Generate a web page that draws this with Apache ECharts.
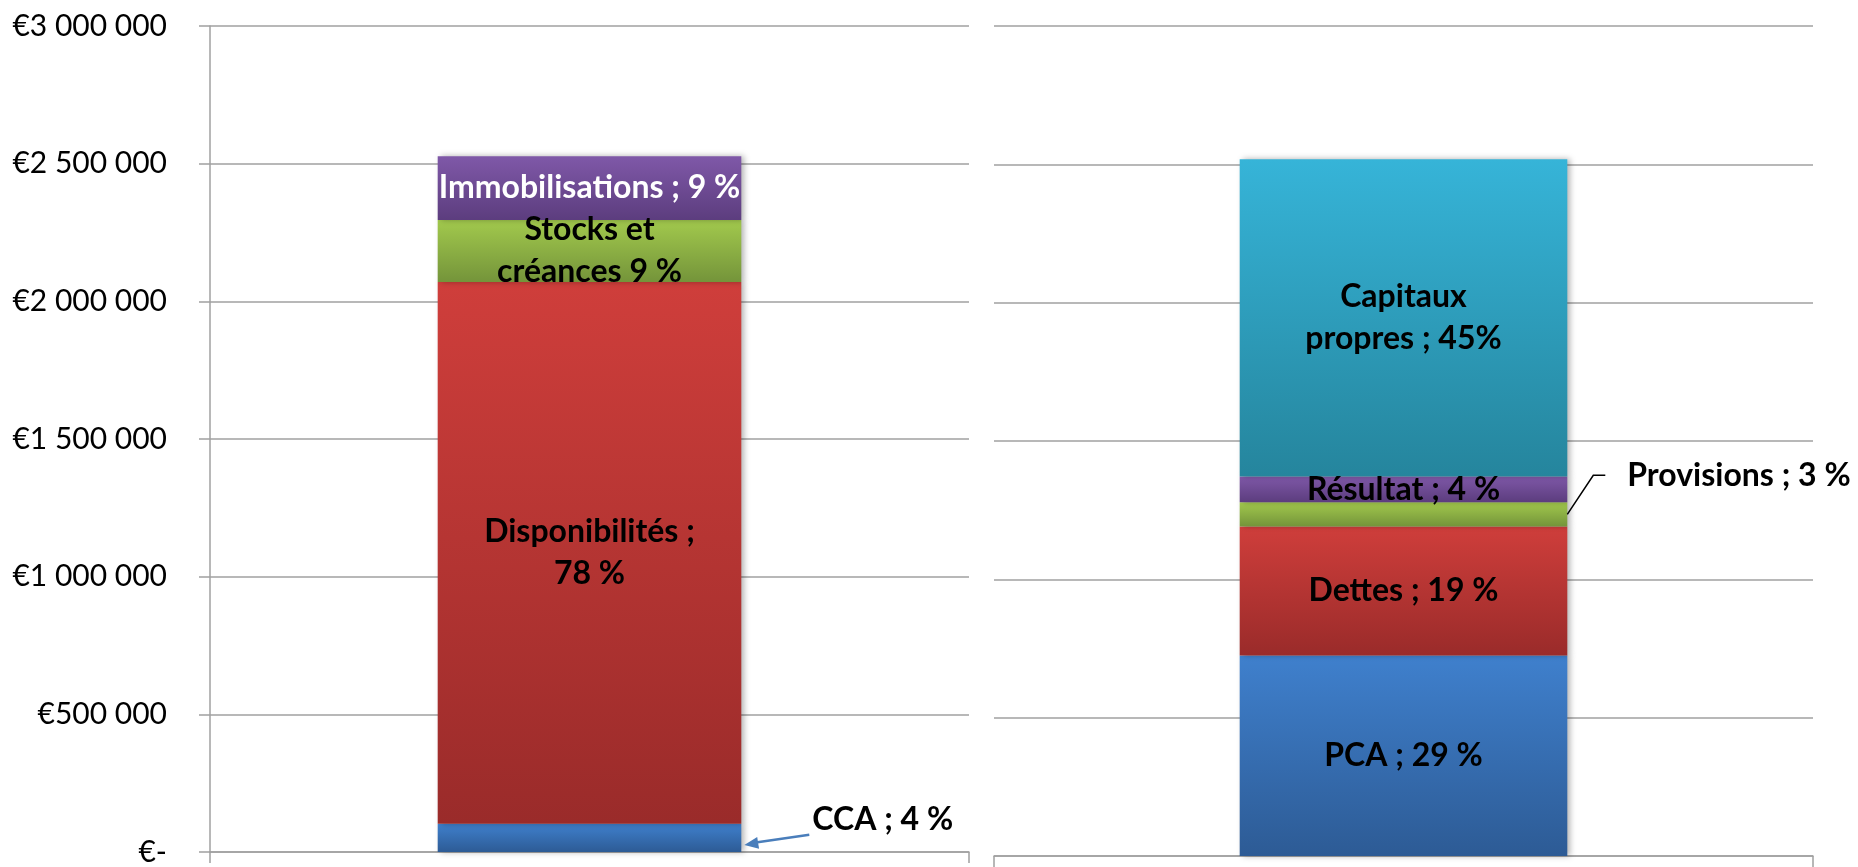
<!DOCTYPE html>
<html>
<head>
<meta charset="utf-8">
<style>
  html, body { margin: 0; padding: 0; background: #fff; }
  #bilan { width: 1858px; height: 867px; }
</style>
<script src="https://cdn.jsdelivr.net/npm/echarts@6/dist/echarts.min.js"></script>
</head>
<body>
<div id="bilan"></div>
<script>
// axe des valeurs
const yMin = 0
const yMax = 3000000
const yStep = 500000

// actif (barre de gauche), de bas en haut
const actifNames = ['CCA', 'Disponibilités', 'Stocks et créances', 'Immobilisations']
const actifValues = [103000, 1967000, 225000, 232000]
const actifLabels = ['CCA ; 4 %', 'Disponibilités ;\n78 %', 'Stocks et\ncréances 9 %', 'Immobilisa\u200Ctions ; 9 %']

// passif (barre de droite), de bas en haut
const passifNames = ['PCA', 'Dettes', 'Provisions', 'Résultat', 'Capitaux propres']
const passifValues = [725000, 466000, 88000, 93000, 1146000]
const passifLabels = ['PCA ; 29 %', 'Dettes ; 19 %', 'Provisions ; 3 %', 'Résultat ; 4 %', 'Capitaux\npropres ; 45%']

// couleurs (haut, bas)
const gradients = {
  blue: ['#3f80cd', '#2d5b95'],
  red: ['#cf3e3b', '#9a2b2a'],
  green: ['#a2c94d', '#74943a'],
  purple: ['#7f58a8', '#5c3d7e'],
  teal: ['#36b4d8', '#25859d']
}
const actifColors = ['blue', 'red', 'green', 'purple']
const passifColors = ['blue', 'red', 'green', 'purple', 'teal']

const FONT = 'Lato, "Noto Sans", sans-serif'
const GRID_COLOR = '#a0a0a0'
const CCA_OFFSET = [66, -18]
const PROV_OFFSET = [55, -39]

function fill(key) {
  const c = gradients[key]
  return new echarts.graphic.LinearGradient(0, 0, 0, 1, [
    { offset: 0, color: c[0] },
    { offset: 1, color: c[1] }
  ])
}

function euro(v) {
  if (v === 0) return '€-'
  return '€' + String(v).replace(/\B(?=(\d{3})+(?!\d))/g, ' ')
}

function makeSeries(names, values, labels, colors, idx) {
  return names.map((name, i) => ({
    name: name,
    type: 'bar',
    stack: 'bilan' + idx,
    xAxisIndex: idx,
    yAxisIndex: idx,
    barWidth: '40%',
    data: [values[i]],
    itemStyle: {
      color: fill(colors[i]),
      shadowBlur: 6,
      shadowColor: 'rgba(0,0,0,0.3)',
      shadowOffsetX: 3
    },
    label: {
      show: true,
      position: 'inside',
      formatter: labels[i],
      fontFamily: FONT,
      fontSize: 32,
      fontWeight: 'bold',
      lineHeight: 42,
      color: '#000'
    }
  }))
}

const seriesList = makeSeries(actifNames, actifValues, actifLabels, actifColors, 0)
  .concat(makeSeries(passifNames, passifValues, passifLabels, passifColors, 1))

// libellés particuliers
seriesList[0].label.position = 'right'
seriesList[0].label.distance = 5
seriesList[0].label.offset = CCA_OFFSET
seriesList[3].label.color = '#fff'
seriesList[6].label.position = 'right'
seriesList[6].label.distance = 5
seriesList[6].label.offset = PROV_OFFSET

function xAxis(idx) {
  return {
    type: 'category',
    gridIndex: idx,
    data: [''],
    axisLine: { lineStyle: { color: GRID_COLOR, width: 1.5 } },
    axisTick: { show: true, length: 11, lineStyle: { color: GRID_COLOR, width: 1.5 } },
    axisLabel: { show: false }
  }
}

function yAxis(idx) {
  return {
    type: 'value',
    gridIndex: idx,
    min: yMin,
    max: yMax,
    interval: yStep,
    axisLine: { show: idx === 0, lineStyle: { color: GRID_COLOR, width: 1.5 } },
    axisTick: { show: idx === 0, length: 11, lineStyle: { color: GRID_COLOR, width: 1.5 } },
    splitLine: { lineStyle: { color: GRID_COLOR, width: 1.5 } },
    axisLabel: {
      show: idx === 0,
      margin: 43,
      formatter: euro,
      fontFamily: FONT,
      fontSize: 30,
      color: '#000'
    }
  }
}

const option = {
  backgroundColor: '#fff',
  animation: false,
  grid: [
    { left: 210, right: 889, top: 26, bottom: 11 },
    { left: 994, right: 45, top: 26, bottom: 11 }
  ],
  xAxis: [xAxis(0), xAxis(1)],
  yAxis: [yAxis(0), yAxis(1)],
  series: seriesList
}

const myChart = echarts.init(document.getElementById('bilan'))
myChart.setOption(option)

// traits de rappel, calculés depuis la disposition des barres
function barRect(seriesIndex) {
  const l = myChart.getModel().getSeriesByIndex(seriesIndex).getData().getItemLayout(0)
  return {
    left: Math.min(l.x, l.x + l.width),
    right: Math.max(l.x, l.x + l.width),
    top: Math.min(l.y, l.y + l.height),
    bottom: Math.max(l.y, l.y + l.height)
  }
}

function arrowHead(tip, from, len, half) {
  const dx = tip[0] - from[0]
  const dy = tip[1] - from[1]
  const d = Math.sqrt(dx * dx + dy * dy)
  const ux = dx / d
  const uy = dy / d
  const bx = tip[0] - ux * len
  const by = tip[1] - uy * len
  return [tip, [bx - uy * half, by + ux * half], [bx + uy * half, by - ux * half]]
}

const cca = barRect(0)
const ccaMid = (cca.top + cca.bottom) / 2
const ccaStart = [cca.right + 5 + CCA_OFFSET[0] - 3, ccaMid + CCA_OFFSET[1] + 15]
const ccaTip = [cca.right + 3, cca.bottom - 7]

const prov = barRect(6)
const provMid = (prov.top + prov.bottom) / 2
const provLabelY = provMid + PROV_OFFSET[1]
const provLabelX = prov.right + 5 + PROV_OFFSET[0]

myChart.setOption({
  graphic: [
    {
      type: 'polyline',
      shape: { points: [ccaStart, [ccaTip[0] + 8, ccaTip[1] - 2]] },
      style: { stroke: '#4a7ebb', lineWidth: 2.5, fill: null },
      z: 100
    },
    {
      type: 'polygon',
      shape: { points: arrowHead(ccaTip, ccaStart, 14, 6) },
      style: { fill: '#4a7ebb' },
      z: 100
    },
    {
      type: 'polyline',
      shape: {
        points: [
          [prov.right, provMid],
          [provLabelX - 34, provLabelY],
          [provLabelX - 22, provLabelY]
        ]
      },
      style: { stroke: '#000', lineWidth: 1.5, fill: null },
      z: 100
    }
  ]
})

window.addEventListener('resize', () => myChart.resize())
</script>
</body>
</html>
